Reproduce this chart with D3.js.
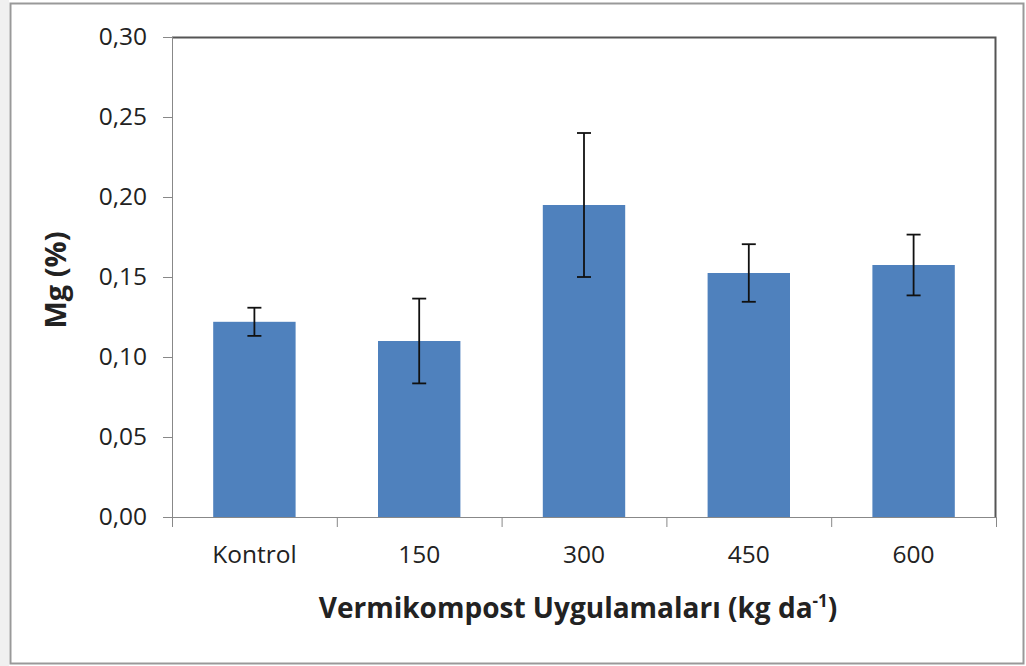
<!DOCTYPE html>
<html>
<head>
<meta charset="utf-8">
<script src="https://cdn.jsdelivr.net/npm/d3@7"></script>
<style>
  body { margin: 0; background: #fff; }
  text { font-family: "Open Sans", "Liberation Sans", sans-serif; fill: #222; }
</style>
</head>
<body>
<div id="chart"></div>
<script>
var categories = ["Kontrol", "150", "300", "450", "600"];
var mgValues = [0.122, 0.110, 0.195, 0.1525, 0.1575];
var mgErrors = [0.0088, 0.0265, 0.045, 0.018, 0.019];
var yTicks = [0, 0.05, 0.10, 0.15, 0.20, 0.25, 0.30];

var svgWidth = 1026;
var svgHeight = 666;

var margin = { top: 37, right: 30, bottom: 149, left: 172 };
var width = 996 - margin.left;
var height = 517 - margin.top;

var svg = d3.select("#chart")
  .append("svg")
  .attr("width", svgWidth)
  .attr("height", svgHeight);

// light shade outside the frame + frame
svg.append("rect").attr("x", 0).attr("y", 0).attr("width", 9).attr("height", svgHeight).attr("fill", "#f0f0f0");
svg.append("rect")
  .attr("x", 10.5).attr("y", 3.5)
  .attr("width", 1013).attr("height", 660)
  .attr("fill", "#fff")
  .attr("stroke", "#999")
  .attr("stroke-width", 2);

var chartGroup = svg.append("g")
  .attr("transform", `translate(${margin.left}, ${margin.top})`);

var x = d3.scaleBand()
  .domain(categories)
  .range([0, width])
  .paddingInner(0.5)
  .paddingOuter(0.25);

var y = d3.scaleLinear()
  .domain([0, 0.30])
  .range([height, 0]);

// plot area top/right border
chartGroup.append("path")
  .attr("d", `M0,0.5H${width - 0.5}V${height}`)
  .attr("fill", "none")
  .attr("stroke", "#555")
  .attr("stroke-width", 2);

// bars
chartGroup.selectAll("rect.bar")
  .data(mgValues)
  .enter()
  .append("rect")
  .attr("class", "bar")
  .attr("x", (d, i) => x(categories[i]))
  .attr("y", d => y(d))
  .attr("width", x.bandwidth())
  .attr("height", d => height - y(d))
  .attr("fill", "#4F81BD");

// error bars
var errGroup = chartGroup.selectAll("g.err")
  .data(mgValues)
  .enter()
  .append("g")
  .attr("class", "err")
  .attr("transform", (d, i) => `translate(${x(categories[i]) + x.bandwidth() / 2}, 0)`);

errGroup.append("line")
  .attr("y1", (d, i) => y(d + mgErrors[i]))
  .attr("y2", (d, i) => y(d - mgErrors[i]))
  .attr("stroke", "#111").attr("stroke-width", 1.8);

errGroup.append("line")
  .attr("x1", -7).attr("x2", 7)
  .attr("y1", (d, i) => y(d + mgErrors[i]))
  .attr("y2", (d, i) => y(d + mgErrors[i]))
  .attr("stroke", "#111").attr("stroke-width", 1.8);

errGroup.append("line")
  .attr("x1", -7).attr("x2", 7)
  .attr("y1", (d, i) => y(d - mgErrors[i]))
  .attr("y2", (d, i) => y(d - mgErrors[i]))
  .attr("stroke", "#111").attr("stroke-width", 1.8);

// axes
var leftAxis = d3.axisLeft(y)
  .tickValues(yTicks)
  .tickSize(9)
  .tickPadding(16)
  .tickFormat(d => d3.format(".2f")(d).replace(".", ","));

var yAxisG = chartGroup.append("g").call(leftAxis);
yAxisG.select(".domain").attr("stroke", "#888").attr("d", `M0.5,0V${height}`);
yAxisG.selectAll(".tick line").attr("stroke", "#888");
yAxisG.selectAll("text").attr("font-size", "24.5px").attr("fill", "#222").attr("font-family", "Open Sans");

var bottomAxis = d3.axisBottom(x).tickSize(0).tickPadding(29);
var xAxisG = chartGroup.append("g")
  .attr("transform", `translate(0, ${height})`)
  .call(bottomAxis);
xAxisG.select(".domain").attr("stroke", "#888").attr("d", `M-9,0.5H${width}`);
xAxisG.selectAll("text").attr("font-size", "24.5px").attr("fill", "#222").attr("font-family", "Open Sans");

// category separator ticks
var step = x.step();
chartGroup.selectAll("line.sep")
  .data(d3.range(categories.length + 1))
  .enter()
  .append("line")
  .attr("class", "sep")
  .attr("x1", d => d * step + 0.5)
  .attr("x2", d => d * step + 0.5)
  .attr("y1", height)
  .attr("y2", height + 10)
  .attr("stroke", "#888");

// axis titles
svg.append("text")
  .attr("transform", `translate(66, ${margin.top + height / 2 + 3}) rotate(-90)`)
  .attr("text-anchor", "middle")
  .attr("font-size", "29px")
  .attr("font-weight", "bold")
  .attr("fill", "#111")
  .text("Mg (%)");

var xTitle = svg.append("text")
  .attr("x", margin.left + width / 2 - 6)
  .attr("y", 618)
  .attr("text-anchor", "middle")
  .attr("font-size", "28px")
  .attr("font-weight", "bold")
  .attr("fill", "#111");
xTitle.append("tspan").text("Vermikompost Uygulamaları (kg da");
xTitle.append("tspan").attr("font-size", "17px").attr("dy", "-11").text("-1");
xTitle.append("tspan").attr("dy", "11").text(")");
</script>
</body>
</html>
